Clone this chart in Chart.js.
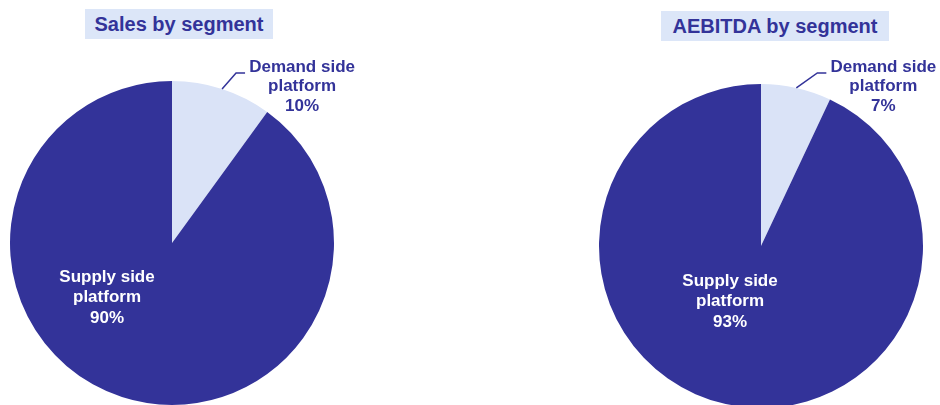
<!DOCTYPE html>
<html>
<head>
<meta charset="utf-8">
<script src="https://cdn.jsdelivr.net/npm/chart.js@4.4.1/dist/chart.umd.min.js"></script>
<style>
body{margin:0;width:940px;height:405px;overflow:hidden;background:#fff;position:relative;font-family:"Liberation Sans",Arial,sans-serif}
.title{position:absolute;background:#dce6f8;color:#333399;font-weight:bold;font-size:20px;line-height:31px;height:30px;text-align:center}
.box{position:absolute;top:0;width:470px;height:410px}
</style>
</head>
<body>
<div class="title" style="left:85px;top:9px;width:188px">Sales by segment</div>
<div class="title" style="left:661px;top:11px;width:228px">AEBITDA by segment</div>
<div class="box" style="left:0"><canvas id="c1"></canvas></div>
<div class="box" style="left:470px"><canvas id="c2"></canvas></div>
<script>
// segmentos (cada label quebrada em linhas)
const segments = [['Demand side', 'platform'], ['Supply side', 'platform']];
const salesShare = [10, 90];
const aebitdaShare = [7, 93];
const colors = ['#dae3f7', '#333399'];

// desenha rótulos: demanda fora com linha guia, supply dentro
const segLabels = {
    id: 'segLabels',
    afterDatasetsDraw(chart, args, opts) {
        const ctx = chart.ctx;
        const meta = chart.getDatasetMeta(0);
        const values = chart.data.datasets[0].data;
        ctx.save();
        ctx.font = 'bold 17px "Liberation Sans", Arial, sans-serif';
        ctx.textAlign = 'center';
        ctx.textBaseline = 'middle';

        // fatia pequena (demand)
        const a = meta.data[0].getProps(['x', 'y', 'startAngle', 'endAngle', 'outerRadius'], true);
        const mid = (a.startAngle + a.endAngle) / 2;
        const sx = a.x + Math.cos(mid) * a.outerRadius;
        const sy = a.y + Math.sin(mid) * a.outerRadius;
        const ex = sx + opts.elbow[0];
        const ey = sy + opts.elbow[1];
        ctx.strokeStyle = '#333399';
        ctx.lineWidth = 1.5;
        ctx.beginPath();
        ctx.moveTo(sx, sy);
        ctx.lineTo(ex, ey);
        ctx.lineTo(ex + 9, ey);
        ctx.stroke();
        ctx.fillStyle = '#333399';
        const lines0 = segments[0].concat(values[0] + '%');
        lines0.forEach((t, i) => ctx.fillText(t, ex + 66, ey - 6 + i * 19.7));

        // fatia grande (supply)
        const b = meta.data[1];
        ctx.fillStyle = '#ffffff';
        const lines1 = segments[1].concat(values[1] + '%');
        lines1.forEach((t, i) => ctx.fillText(t, b.x + opts.supply[0], b.y + opts.supply[1] + i * 20.5));
        ctx.restore();
    }
};

function makePie(id, values, padding, opts) {
    return new Chart(document.getElementById(id), {
        type: 'pie',
        data: {
            labels: segments.map(s => s.join(' ')),
            datasets: [{
                data: values,
                backgroundColor: colors,
                borderWidth: 0
            }]
        },
        options: {
            responsive: true,
            maintainAspectRatio: false,
            animation: false,
            layout: { padding: padding },
            plugins: {
                legend: { display: false },
                tooltip: { enabled: false },
                segLabels: opts
            }
        },
        plugins: [segLabels]
    });
}

makePie('c1', salesShare, { left: 10, right: 136, top: 81, bottom: 5 }, { elbow: [14, -16], supply: [-65, 34] });
makePie('c2', aebitdaShare, { left: 129, right: 17, top: 84, bottom: 2 }, { elbow: [21, -15], supply: [-31, 35] });
</script>
</body>
</html>
